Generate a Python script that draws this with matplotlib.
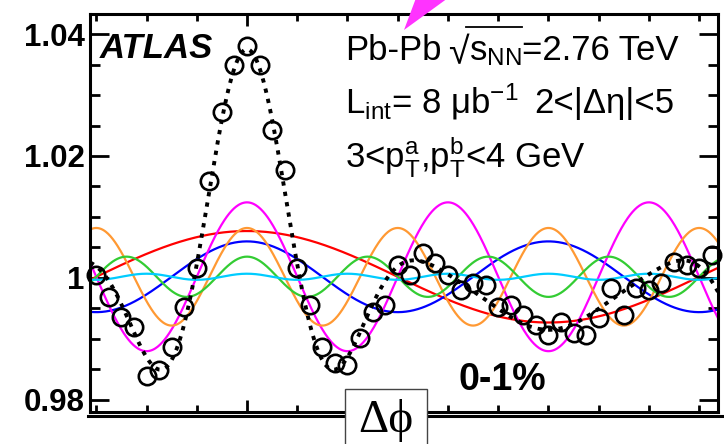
import numpy as np
import matplotlib
matplotlib.use('Agg')
import matplotlib.pyplot as plt
from matplotlib.patches import Polygon, Rectangle
from matplotlib.lines import Line2D
from matplotlib.ticker import FixedLocator, MultipleLocator, NullFormatter, FixedFormatter

plt.rcParams['font.family'] = ['Liberation Sans', 'DejaVu Sans']
plt.rcParams['mathtext.fontset'] = 'custom'
plt.rcParams['mathtext.rm'] = 'Liberation Sans'
plt.rcParams['mathtext.it'] = 'Liberation Sans:italic'
plt.rcParams['mathtext.bf'] = 'Liberation Sans:bold'

# ---------------- data ----------------
bin_index = np.arange(-12, 38)            # bins of width pi/24
dphi = bin_index * np.pi / 24
corr = [1.0005, 0.9969, 0.9936, 0.9920, 0.9839, 0.9849, 0.9887, 0.9952, 1.0016, 1.0159,
        1.0272, 1.0349, 1.0380, 1.0349, 1.0243, 1.0177, 1.0016, 0.9956, 0.9887, 0.9861,
        0.9857, 0.9902, 0.9944, 0.9956, 1.0021, 1.0005, 1.0041, 1.0025, 1.0005, 0.9980,
        0.9992, 0.9989, 0.9952, 0.9956, 0.9939, 0.9923, 0.9907, 0.9928, 0.9910, 0.9907,
        0.9934, 0.9984, 0.9939, 0.9984, 0.9980, 0.9992, 1.0026, 1.0021, 1.0016, 1.0038]
harmonic_order = [1, 2, 3, 4, 5, 6]
harmonic_amp = [0.0075, 0.0058, 0.0122, 0.0080, 0.0033, 0.0005]
harmonic_color = ['#ff0000', '#0000ff', '#ff00ff', '#ff9933', '#33cc33', '#00ccff']
baseline = 1.0002
y_ticks = [0.98, 1.00, 1.02, 1.04]
y_ticklabels = ['0.98', '1', '1.02', '1.04']

# ---------------- figure ----------------
W, H = 724, 444
fig = plt.figure(figsize=(W / 100, H / 100), dpi=100)


def fx(px):
    return px / W


def fy(py):
    return 1 - py / H


ax = fig.add_axes([fx(90), fy(412), fx(718) - fx(90), fy(14) - fy(412)])
x_lo, x_hi = -12.5 * np.pi / 24, 37.5 * np.pi / 24
ax.set_xlim(x_lo, x_hi)
ax.set_ylim(0.97803, 1.04328)

xs = np.linspace(x_lo, x_hi, 800)
total = np.full_like(xs, baseline)
for n, a, c in zip(harmonic_order, harmonic_amp, harmonic_color):
    comp = a * np.cos(n * xs)
    ax.plot(xs, baseline + comp, color=c, lw=1.6, zorder=2)
    total = total + comp
ax.plot(xs, total, color='black', lw=2.8, ls=(0, (1.1, 1.6)), zorder=3)
ax.plot(dphi, corr, 'o', mfc='none', mec='black', ms=12.5, mew=1.9, zorder=4, clip_on=False)

for s in ax.spines.values():
    s.set_linewidth(2.2)

ax.yaxis.set_major_locator(FixedLocator(y_ticks))
ax.yaxis.set_major_formatter(FixedFormatter(y_ticklabels))
ax.yaxis.set_minor_locator(MultipleLocator(0.005))
ax.tick_params(axis='y', which='major', direction='in', length=14, width=2,
               left=True, right=True, labelsize=22.5, pad=4)
ax.tick_params(axis='y', which='minor', direction='in', length=7.5, width=2,
               left=True, right=True)
for lab in ax.get_yticklabels():
    lab.set_fontweight('bold')

ax.xaxis.set_major_locator(FixedLocator([0.0]))
ax.xaxis.set_major_formatter(NullFormatter())
ax.xaxis.set_minor_locator(MultipleLocator(np.pi / 6))
ax.tick_params(axis='x', which='major', direction='in', length=8.5, width=2,
               top=True, bottom=True, labelbottom=False)
ax.tick_params(axis='x', which='minor', direction='in', length=5, width=2,
               top=True, bottom=True)

# texts
fig.text(fx(100), fy(58), 'ATLAS', fontsize=25, fontweight='bold', fontstyle='italic', va='baseline')
fig.text(fx(345), fy(60), 'Pb-Pb', fontsize=25, va='baseline')
fig.text(fx(448), fy(64), '√', family=['Liberation Sans'], fontsize=27, va='baseline')
fig.add_artist(Line2D([fx(466), fx(522)], [fy(27), fy(27)], color='black', lw=1.3))
fig.text(fx(469), fy(60), r's$_{\mathrm{NN}}$', fontsize=25, va='baseline')
fig.text(fx(522), fy(60), '=2.76 TeV', fontsize=25, va='baseline')
fig.text(fx(345), fy(113), r'L$_{\mathrm{int}}$= 8 μb$^{\mathrm{-1}}$', fontsize=25, va='baseline')
fig.text(fx(534), fy(113), '2<|Δη|<5', fontsize=25, va='baseline')
fig.text(fx(345), fy(167), r'3<$\mathrm{p_{T}^{a}}$,$\mathrm{p_{T}^{b}}$<4 GeV', fontsize=25, va='baseline')
fig.text(fx(458), fy(390), '0-1%', fontsize=27, fontweight='bold', va='baseline')

# second bottom line
fig.add_artist(Line2D([fx(88), fx(722)], [fy(416), fy(416)], color='black', lw=2.2, zorder=3))

# delta-phi box
fig.add_artist(Rectangle((fx(345), fy(446)), fx(427) - fx(345), fy(389) - fy(446),
                         transform=fig.transFigure, facecolor='white', edgecolor='#444444',
                         lw=1.0, zorder=5))
fig.text(fx(386), fy(432), 'Δϕ', family=['Liberation Serif', 'DejaVu Serif'], fontsize=34,
         ha='center', va='baseline', zorder=6)

# magenta arrow head
fig.add_artist(Polygon([(fx(404), fy(30)), (fx(416), fy(-2)), (fx(448), fy(-2))],
                       closed=True, transform=fig.transFigure, facecolor='#ff33ff',
                       edgecolor='none', zorder=6))

fig.savefig('out.png', dpi=100)
